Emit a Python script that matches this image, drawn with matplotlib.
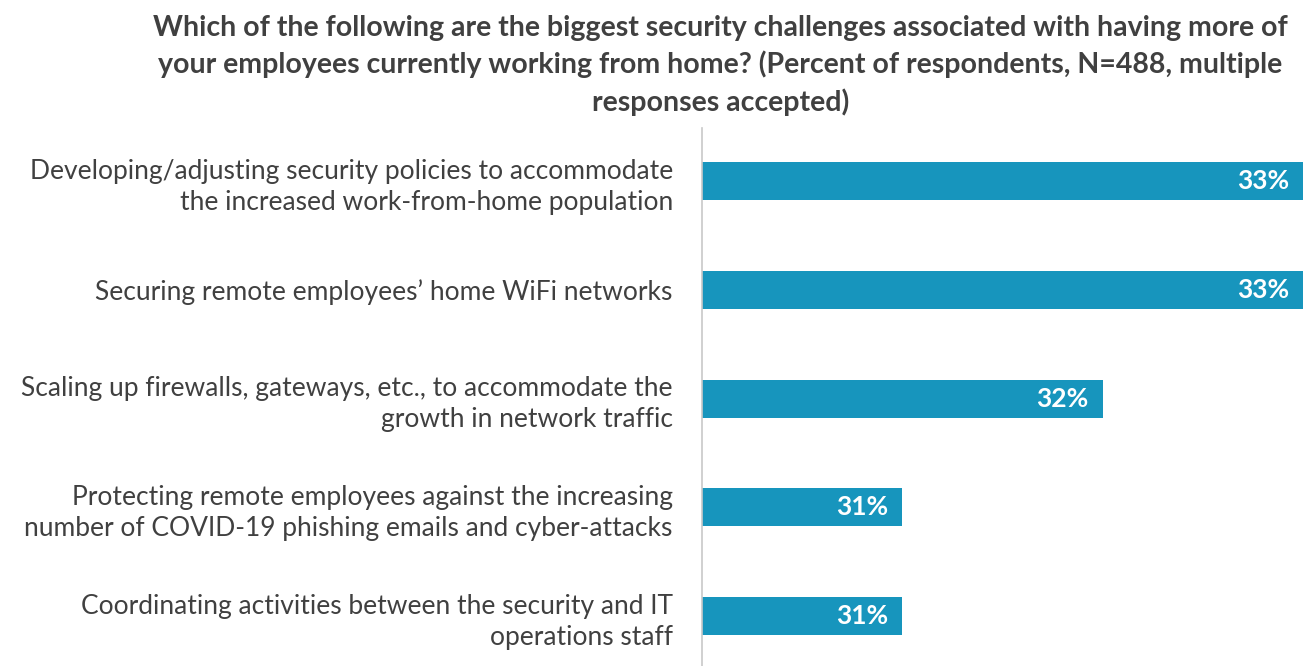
import matplotlib
matplotlib.use("Agg")
import matplotlib.pyplot as plt

plt.rcParams['font.family'] = ['Lato', 'DejaVu Sans']

categories = [
    "Developing/adjusting security policies to accommodate\nthe increased work-from-home population",
    "Securing remote employees\u2019 home WiFi networks",
    "Scaling up firewalls, gateways, etc., to accommodate the\ngrowth in network traffic",
    "Protecting remote employees against the increasing\nnumber of COVID-19 phishing emails and cyber-attacks",
    "Coordinating activities between the security and IT\noperations staff",
]
values = [33, 33, 32, 31, 31]
value_labels = ["33%", "33%", "32%", "31%", "31%"]

title = ("Which of the following are the biggest security challenges associated with having more of\n"
         "your employees currently working from home? (Percent of respondents, N=488, multiple\n"
         "responses accepted)")

BAR = "#1795bd"
TXT = "#404040"

fig = plt.figure(figsize=(13.03, 6.66), dpi=100)
ax = fig.add_axes([702 / 1303, 0, 1 - 702 / 1303, (666 - 128) / 666])

ypos = list(range(len(categories)))
ax.barh(ypos, values, height=0.35, color=BAR, left=0)
ax.set_xlim(30, 33)
ax.set_ylim(4.46, -0.49)

for y, v, lab in zip(ypos, values, value_labels):
    ax.text(v - 0.07, y, lab, ha='right', va='center', color='white',
            fontsize=19, fontweight='bold')

ax.set_yticks(ypos)
ax.set_yticklabels(categories, fontsize=19, color=TXT, linespacing=1.3)
ax.tick_params(axis='y', length=0, pad=21)
ax.set_xticks([])
for s in ['top', 'right', 'bottom']:
    ax.spines[s].set_visible(False)
ax.spines['left'].set_color('#c8c8c8')
ax.spines['left'].set_linewidth(1.2)

fig.text(0.553, 0.978, title, ha='center', va='top', fontsize=20.5,
         fontweight='bold', color=TXT, linespacing=1.45)

fig.savefig("out.png", dpi=100)
